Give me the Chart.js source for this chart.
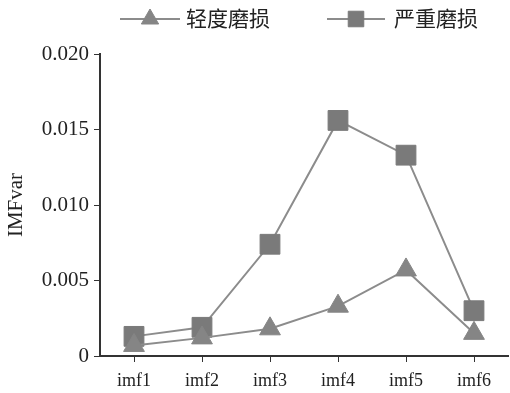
<!DOCTYPE html>
<html lang="zh">
<head>
  <meta charset="UTF-8">
  <title>IMFvar</title>
  <script src="https://cdn.jsdelivr.net/npm/chart.js"></script>
  <style>
    body { margin: 0; background: #fff; }
    .wrap { width: 510px; height: 393px; }
  </style>
</head>
<body>
  <div class="wrap"><canvas id="chart"></canvas></div>
  <script>
    const categories = ["imf1", "imf2", "imf3", "imf4", "imf5", "imf6"];
    const lightWear = [0.0007, 0.0012, 0.0018, 0.0033, 0.0057, 0.0015];
    const heavyWear = [0.0013, 0.0019, 0.0074, 0.0156, 0.0133, 0.0030];
    const seriesNames = ["轻度磨损", "严重磨损"];
    const yTicks = [0, 0.005, 0.010, 0.015, 0.020];

    const serif = "'Liberation Serif', 'Noto Sans CJK SC', serif";

    // legend drawn as line + marker + text like the original figure
    const lineLegend = {
      id: "lineLegend",
      afterDraw(chart) {
        const ctx = chart.ctx;
        const items = [
          { x0: 120, x1: 180, text: 186, ds: chart.data.datasets[0], r: 10 },
          { x0: 327, x1: 385, text: 394, ds: chart.data.datasets[1], r: 11 }
        ];
        const y = 19;
        ctx.save();
        items.forEach(it => {
          ctx.strokeStyle = it.ds.borderColor;
          ctx.lineWidth = 2;
          ctx.beginPath();
          ctx.moveTo(it.x0, y);
          ctx.lineTo(it.x1, y);
          ctx.stroke();
          ctx.fillStyle = it.ds.pointBackgroundColor;
          ctx.strokeStyle = it.ds.pointBorderColor;
          ctx.lineWidth = 1;
          Chart.helpers.drawPoint(ctx, { pointStyle: it.ds.pointStyle, radius: it.r, borderWidth: 1 }, (it.x0 + it.x1) / 2, y);
          ctx.fillStyle = "#222";
          ctx.font = "21px " + serif;
          ctx.textBaseline = "middle";
          ctx.fillText(it.ds.label, it.text, y + 1);
        });
        ctx.restore();
      }
    };

    new Chart(document.getElementById("chart"), {
      type: "line",
      data: {
        labels: categories,
        datasets: [
          {
            label: seriesNames[0],
            data: lightWear,
            borderColor: "#8c8c8c",
            borderWidth: 2,
            pointStyle: "triangle",
            pointRadius: 12,
            pointBackgroundColor: "#858585",
            pointBorderColor: "#858585",
            pointBorderWidth: 1
          },
          {
            label: seriesNames[1],
            data: heavyWear,
            borderColor: "#8c8c8c",
            borderWidth: 2,
            pointStyle: "rect",
            pointRadius: 14,
            pointBackgroundColor: "#7a7a7a",
            pointBorderColor: "#7a7a7a",
            pointBorderWidth: 1
          }
        ]
      },
      options: {
        responsive: true,
        maintainAspectRatio: false,
        animation: false,
        layout: { autoPadding: false, padding: { top: 54, right: 2, left: 0, bottom: 0 } },
        plugins: {
          legend: { display: false },
          tooltip: { enabled: false }
        },
        scales: {
          x: {
            offset: true,
            grid: { display: true, drawOnChartArea: false, tickLength: 6, color: "#333", offset: false },
            border: { color: "#333", width: 2 },
            ticks: { color: "#222", font: { family: serif, size: 18 }, padding: 8, maxRotation: 0 },
            afterFit(scale) {
              scale.height = 37;
              scale.paddingLeft = 0;
              scale.paddingRight = 0;
            }
          },
          y: {
            min: 0,
            max: 0.020,
            afterBuildTicks(scale) { scale.ticks = yTicks.map(v => ({ value: v })); },
            grid: { display: true, drawOnChartArea: false, tickLength: 6, color: "#333" },
            border: { color: "#333", width: 2 },
            ticks: {
              color: "#222",
              font: { family: serif, size: 21 },
              padding: 5,
              callback: v => v === 0 ? "0" : v.toFixed(3)
            },
            title: {
              display: true,
              text: "IMFvar",
              color: "#222",
              font: { family: serif, size: 21 },
              padding: { top: 4, bottom: 0 }
            },
            afterFit(scale) { scale.width = 100; }
          }
        }
      },
      plugins: [lineLegend]
    });
  </script>
</body>
</html>
